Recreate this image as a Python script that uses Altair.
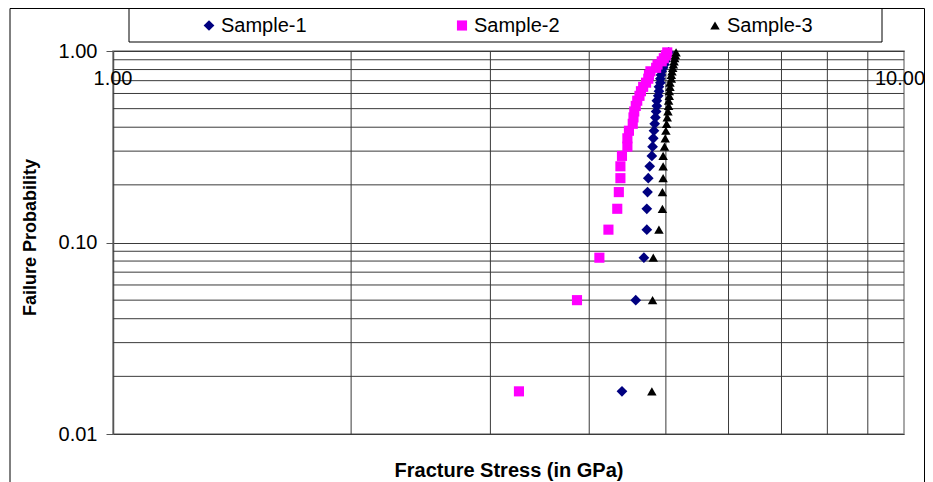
import altair as alt
import pandas as pd

# ---- data ----
prob = [0.0167, 0.05, 0.0833, 0.1167, 0.15, 0.1833, 0.2167, 0.25, 0.2833, 0.3167,
        0.35, 0.3833, 0.4167, 0.45, 0.4833, 0.5167, 0.55, 0.5833, 0.6167, 0.65,
        0.6833, 0.7167, 0.75, 0.7833, 0.8167, 0.85, 0.8833, 0.9167, 0.95, 0.9833]
sample1 = [4.40, 4.58, 4.69, 4.73, 4.73, 4.74, 4.75, 4.77, 4.80, 4.81,
           4.82, 4.83, 4.84, 4.85, 4.86, 4.87, 4.87, 4.89, 4.90, 4.90,
           4.92, 4.92, 4.93, 4.94, 4.96, 4.98, 4.99, 5.00, 5.02, 5.04]
sample2 = [3.26, 3.86, 4.12, 4.23, 4.34, 4.36, 4.38, 4.38, 4.40, 4.47,
           4.47, 4.49, 4.54, 4.55, 4.56, 4.58, 4.60, 4.63, 4.65, 4.68,
           4.72, 4.75, 4.76, 4.78, 4.86, 4.88, 4.94, 4.97, 5.00, 5.02]
sample3 = [4.80, 4.81, 4.82, 4.90, 4.95, 4.95, 4.96, 4.96, 4.96, 4.98,
           4.99, 5.00, 5.01, 5.02, 5.03, 5.04, 5.04, 5.05, 5.05, 5.06,
           5.06, 5.08, 5.08, 5.09, 5.10, 5.11, 5.12, 5.13, 5.14, 5.15]
series_names = ["Sample-1", "Sample-2", "Sample-3"]
series_colors = ["#000080", "#FF00FF", "#000000"]
series_shapes = ["diamond", "square", "triangle-up"]
series_sizes = [115, 90, 120]

y_ticks = [0.01, 0.1, 1.0]
y_minor = [0.02, 0.03, 0.04, 0.05, 0.06, 0.07, 0.08, 0.09,
           0.2, 0.3, 0.4, 0.5, 0.6, 0.7, 0.8, 0.9]
x_minor = [2, 3, 4, 5, 6, 7, 8, 9]
x_label_vals = [1.0, 10.0]
x_label_text = ["1.00", "10.00"]

rows = []
for name, vals in zip(series_names, [sample1, sample2, sample3]):
    for v, p in zip(vals, prob):
        rows.append({"series": name, "stress": v, "prob": p})
df = pd.DataFrame(rows)

FONT = "Liberation Sans"
GRID = "#3a3a3a"

xscale = alt.Scale(type="log", domain=[1, 10], nice=False)
yscale = alt.Scale(type="log", domain=[0.01, 1], nice=False)

xaxis = alt.Axis(title="Fracture Stress (in GPa)", titleFont=FONT, titleFontSize=20,
                 titleFontWeight="bold", titleColor="black", titlePadding=26,
                 labels=False, ticks=False, domain=False, grid=False)
yaxis = alt.Axis(values=y_ticks, format=".2f", title="Failure Probability",
                 titleFont=FONT, titleFontSize=18, titleFontWeight="bold",
                 titleColor="black", titlePadding=19, titleY=186,
                 labelFont=FONT, labelFontSize=20, labelColor="black",
                 labelPadding=9, labelFlush=False, labelOverlap=False,
                 tickSize=7, tickColor="#555555", domainColor="#555555",
                 domainWidth=1.5, grid=True, gridColor=GRID, gridWidth=1)

hgrid = alt.Chart(pd.DataFrame({"prob": y_minor})).mark_rule(
    color=GRID, strokeWidth=1).encode(
    y=alt.Y("prob:Q", scale=yscale, axis=yaxis))

vgrid = alt.Chart(pd.DataFrame({"stress": x_minor})).mark_rule(
    color=GRID, strokeWidth=1).encode(
    x=alt.X("stress:Q", scale=xscale, axis=xaxis))

one = pd.DataFrame({"k": [0]})
frame = alt.Chart(one).mark_rect(fillOpacity=0, stroke="black", strokeWidth=1).encode(
    x=alt.value(-103), x2=alt.value(811.5), y=alt.value(-42.5), y2=alt.value(440))
legbox = alt.Chart(one).mark_rect(fillOpacity=0, stroke="black", strokeWidth=1).encode(
    x=alt.value(16), x2=alt.value(769), y=alt.value(-42.5), y2=alt.value(-9))

leg = alt.Legend(title=None, orient="none", legendX=86, legendY=-35.5,
                 direction="horizontal", columns=3, symbolSize=90,
                 labelOffset=2, columnPadding=145, labelFontSize=20,
                 labelFont=FONT, labelColor="black", padding=0,
                 symbolStrokeWidth=0, strokeColor="transparent")

points = alt.Chart(df).mark_point(filled=True, opacity=1, strokeWidth=0).encode(
    x=alt.X("stress:Q", scale=xscale, axis=xaxis),
    y=alt.Y("prob:Q", scale=yscale, axis=yaxis),
    color=alt.Color("series:N", scale=alt.Scale(domain=series_names, range=series_colors), legend=leg),
    shape=alt.Shape("series:N", scale=alt.Scale(domain=series_names, range=series_shapes), legend=leg),
    size=alt.Size("series:N", scale=alt.Scale(domain=series_names, range=series_sizes), legend=None),
)

lab_df = pd.DataFrame({"stress": x_label_vals, "label": x_label_text})
xlab1 = alt.Chart(lab_df).transform_filter(alt.datum.stress < 5).mark_text(
    font=FONT, fontSize=20, color="black", baseline="middle", align="center").encode(
    x=alt.X("stress:Q", scale=xscale, axis=xaxis),
    y=alt.value(28),
    text="label:N")
xlab2 = alt.Chart(lab_df).transform_filter(alt.datum.stress > 5).mark_text(
    font=FONT, fontSize=20, color="black", baseline="middle", align="center", dx=-4).encode(
    x=alt.X("stress:Q", scale=xscale, axis=xaxis),
    y=alt.value(28),
    text="label:N")

chart = alt.layer(hgrid, vgrid, frame, legbox, points, xlab1, xlab2).properties(
    width=791, height=383,
    padding={"left": 105, "top": 43, "right": 21, "bottom": 48},
    autosize=alt.AutoSizeParams(type="none"),
    background="white",
).configure_view(stroke="#8c8c8c", strokeWidth=1.5)

chart.save("out.html", embed_options={"renderer": "svg", "actions": False})
